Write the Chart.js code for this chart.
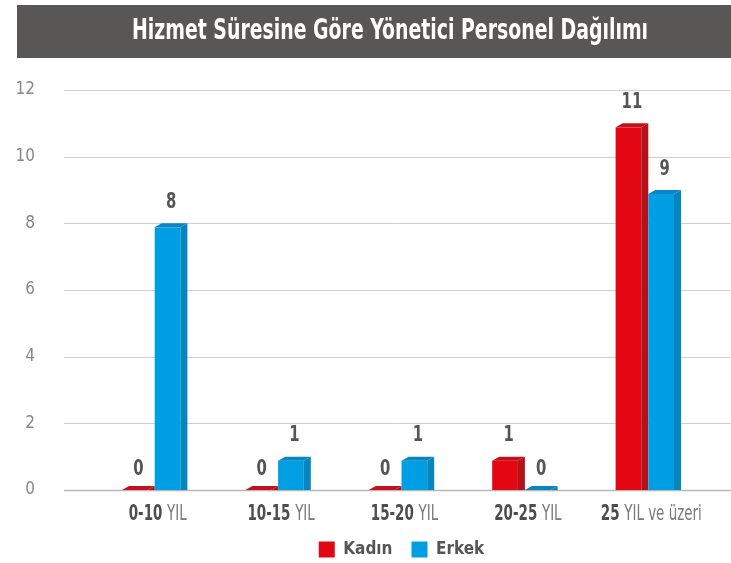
<!DOCTYPE html>
<html>
<head>
<meta charset="utf-8">
<script src="https://cdn.jsdelivr.net/npm/chart.js@4.4.1/dist/chart.umd.min.js"></script>
<style>
  html, body { margin: 0; padding: 0; background: #fff; }
  #wrap { width: 731px; height: 563px; }
</style>
</head>
<body>
<div id="wrap"><canvas id="myChart" width="731" height="563"></canvas></div>
<script>
// data
var baslik = "Hizmet Süresine Göre Yönetici Personel Dağılımı";
var yillar = ["0-10", "10-15", "15-20", "20-25", "25"];
var ekler = ["YIL", "YIL", "YIL", "YIL", "YIL ve üzeri"];
var kadin = [0, 0, 0, 1, 11];
var erkek = [8, 1, 1, 0, 9];
var yTicks = [0, 2, 4, 6, 8, 10, 12];

var FONT = '"DejaVu Sans Condensed", "Liberation Sans Narrow", "Roboto", sans-serif';

// colors: front, top, side
var renkler = [
  ["#e30613", "#c4101b", "#b3121a"],
  ["#009fe3", "#0a84c2", "#0685bf"]
];

// narrow text: the original uses a condensed face, squeeze horizontally
function yaz(c, txt, x, y, font, color, align, sx) {
  c.save();
  c.font = font;
  c.fillStyle = color;
  c.textAlign = align;
  c.textBaseline = "middle";
  c.translate(x, y);
  c.scale(sx, 1);
  c.fillText(txt, 0, 0);
  c.restore();
}

var ciz = {
  id: 'ciz',
  beforeDraw: function(chart) {
    var c = chart.ctx;
    c.save();
    c.fillStyle = "#585755";
    c.fillRect(17, 5, 714, 53);
    c.restore();
    yaz(c, baslik, 390, 32, "bold 28px " + FONT, "#fff", "center", 0.75);
  },
  beforeDatasetsDraw: function(chart) {
    var c = chart.ctx, y = chart.scales.y;
    c.save();
    yTicks.forEach(function(v) {
      var py = Math.round(y.getPixelForValue(v)) + 0.5;
      c.strokeStyle = v === 0 ? "#b8b8b8" : "#cfcfcf";
      c.lineWidth = v === 0 ? 1.5 : 1;
      c.beginPath();
      c.moveTo(64, py);
      c.lineTo(731, py);
      c.stroke();
    });
    c.restore();
  },
  // the library's flat bars are skipped, the 3D faces are drawn below
  beforeDatasetDraw: function() { return false; },
  afterDatasetsDraw: function(chart) {
    var c = chart.ctx;
    var side = 7, dy = 4;
    c.save();
    chart.data.datasets.forEach(function(ds, i) {
      var col = renkler[i];
      chart.getDatasetMeta(i).data.forEach(function(el, j) {
        var left = el.x - el.width / 2;
        var fw = el.width - side;
        var base = el.base;
        var top = Math.min(base, el.y + dy);
        c.fillStyle = col[0];
        c.fillRect(left, top, fw, base - top);
        c.fillStyle = col[1];
        c.beginPath();
        c.moveTo(left, top);
        c.lineTo(left + side, top - dy);
        c.lineTo(left + fw + side, top - dy);
        c.lineTo(left + fw, top);
        c.closePath();
        c.fill();
        c.fillStyle = col[2];
        c.beginPath();
        c.moveTo(left + fw, top);
        c.lineTo(left + fw + side, top - dy);
        c.lineTo(left + fw + side, base);
        c.lineTo(left + fw, base);
        c.closePath();
        c.fill();
        yaz(c, String(ds.data[j]), el.x, el.y - 21, "bold 22px " + FONT, "#555", "center", 0.75);
      });
    });
    c.restore();
    // x labels: bold number + regular suffix
    var x = chart.scales.x, sx = 0.68;
    yillar.forEach(function(t, j) {
      var cx = x.getPixelForValue(j) + 3;
      c.font = "bold 22px " + FONT;
      var w1 = c.measureText(t + " ").width * sx;
      c.font = "22px " + FONT;
      var w2 = c.measureText(ekler[j]).width * sx;
      var x0 = cx - (w1 + w2) / 2;
      yaz(c, t, x0, 514, "bold 22px " + FONT, "#4d4d4d", "left", sx);
      yaz(c, ekler[j], x0 + w1, 514, "22px " + FONT, "#7a7a7a", "left", sx);
    });
  }
};

var ctx = document.getElementById("myChart");
var myChart = new Chart(ctx, {
  type: 'bar',
  data: {
    labels: yillar,
    datasets: [
      {
        data: kadin,
        label: "Kadın",
        backgroundColor: renkler[0][0],
        borderWidth: 0,
        categoryPercentage: 0.53,
        barPercentage: 1
      },
      {
        data: erkek,
        label: "Erkek",
        backgroundColor: renkler[1][0],
        borderWidth: 0,
        categoryPercentage: 0.53,
        barPercentage: 1
      }
    ]
  },
  options: {
    responsive: false,
    animation: false,
    layout: { padding: { top: 90, right: 21, bottom: -5, left: 0 } },
    plugins: {
      title: { display: false },
      tooltip: { enabled: false },
      legend: {
        position: 'bottom',
        fullSize: false,
        labels: {
          boxWidth: 16,
          boxHeight: 16,
          padding: 19,
          color: "#555",
          font: { family: FONT, size: 17, weight: 'bold' }
        }
      }
    },
    scales: {
      x: {
        grid: { display: false },
        border: { display: false },
        ticks: { display: false },
        afterFit: function(s) { s.height = 32; }
      },
      y: {
        min: 0,
        max: 12,
        afterBuildTicks: function(s) { s.ticks = yTicks.map(function(v) { return { value: v }; }); },
        grid: { display: false },
        border: { display: false },
        ticks: {
          padding: 50,
          color: "#888",
          font: { family: FONT, size: 17 }
        },
        afterFit: function(s) { s.width = 93; }
      }
    }
  },
  plugins: [ciz]
});
</script>
</body>
</html>
